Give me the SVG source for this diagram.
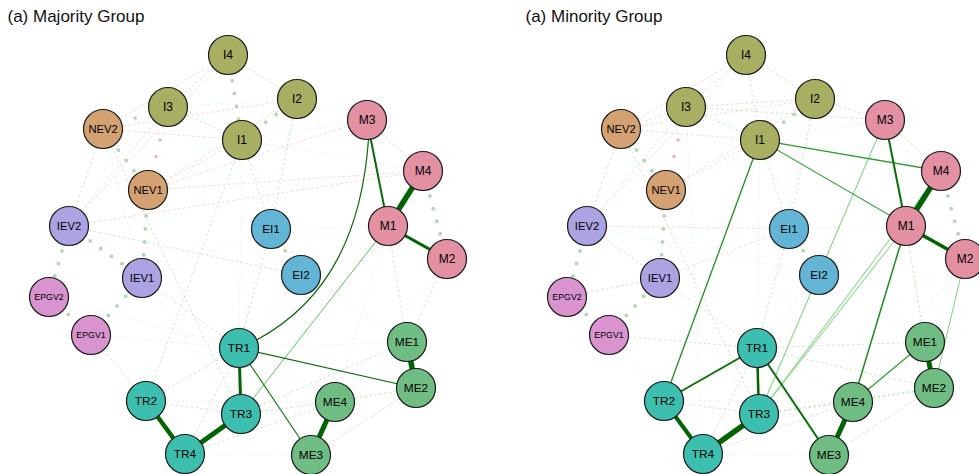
<svg xmlns="http://www.w3.org/2000/svg" width="979" height="474" viewBox="0 0 979 474">
<style>
text{font-family:"Liberation Sans",Arial,sans-serif;fill:#111}
.title{font-size:17px}
.n circle{stroke:#1a1a1a;stroke-width:1.2}
.n text{text-anchor:middle;font-size:11.8px;fill:#000}
.n text.s4{font-size:11.2px}
.n text.s2{font-size:12px}
.n text.s5{font-size:8.8px}
.cI{fill:#A8AE62}.cNEV{fill:#D4A272}.cIEV{fill:#ABA3E2}.cEPGV{fill:#D994CF}
.cEI{fill:#63B5D6}.cM{fill:#E290A2}.cTR{fill:#3DBFB0}.cME{fill:#6FBD83}
line.fg{stroke:#8fcf8f;stroke-width:0.9;stroke-dasharray:2.5 2.5;opacity:0.5}
line.fg2{stroke:#9ed69e;stroke-width:0.8;stroke-dasharray:2 2.5;opacity:0.3}
line.fr{stroke:#f29a9a;stroke-width:0.9;stroke-dasharray:2.5 2.5;opacity:0.45}
line.dg{stroke:#b6d8b6;stroke-width:4;stroke-linecap:round;stroke-dasharray:0 13}
line.dr{stroke:#f7b0b0;stroke-width:3.5;stroke-linecap:round;stroke-dasharray:0 17}
.st line,.st path{fill:none;stroke-linecap:butt}
</style>

<text class="title" x="7.5" y="21.5">(a) Majority Group</text>
<text class="title" x="525.5" y="21.5">(a) Minority Group</text>

<!-- LEFT PANEL CONNECTORS -->
<g id="left-edges">
  <g id="left-faint">
    <line class="fg" x1="228" y1="55" x2="168" y2="107"/>
    <line class="fg" x1="228" y1="55" x2="297" y2="99"/>
    <line class="fg" x1="168" y1="107" x2="242" y2="140"/>
    <line class="fg2" x1="168" y1="107" x2="297" y2="99"/>
    <line class="fg2" x1="297" y1="99" x2="367" y2="120"/>
    <line class="fg2" x1="242" y1="140" x2="367" y2="120"/>
    <line class="fg2" x1="242" y1="140" x2="423" y2="171"/>
    <line class="fg" x1="367" y1="120" x2="423" y2="171"/>
    <line class="fg" x1="103" y1="129" x2="69" y2="226"/>
    <line class="fg" x1="103" y1="129" x2="241" y2="414"/>
    <line class="fg2" x1="103" y1="129" x2="142" y2="278"/>
    <line class="fg" x1="242" y1="140" x2="271" y2="229"/>
    <line class="fg" x1="242" y1="140" x2="146" y2="401"/>
    <line class="fg2" x1="242" y1="140" x2="301" y2="275"/>
    <line class="fg" x1="297" y1="99" x2="271" y2="229"/>
    <line class="fg2" x1="297" y1="99" x2="239" y2="348"/>
    <line class="fg2" x1="242" y1="140" x2="239" y2="348"/>
    <line class="fg" x1="69" y1="226" x2="301" y2="275"/>
    <line class="fg2" x1="142" y1="278" x2="271" y2="229"/>
    <line class="fg2" x1="49" y1="297" x2="239" y2="348"/>
    <line class="fg" x1="91" y1="335" x2="146" y2="401"/>
    <line class="fg2" x1="91" y1="335" x2="239" y2="348"/>
    <line class="fg" x1="271" y1="229" x2="239" y2="348"/>
    <line class="fg2" x1="301" y1="275" x2="239" y2="348"/>
    <line class="fg2" x1="301" y1="275" x2="407" y2="342"/>
    <line class="fg" x1="388" y1="226" x2="407" y2="342"/>
    <line class="fg2" x1="388" y1="226" x2="335" y2="402"/>
    <line class="fg" x1="447" y1="259" x2="407" y2="342"/>
    <line class="fg2" x1="447" y1="259" x2="335" y2="402"/>
    <line class="fg" x1="146" y1="401" x2="239" y2="348"/>
    <line class="fg" x1="146" y1="401" x2="241" y2="414"/>
    <line class="fg2" x1="146" y1="401" x2="335" y2="402"/>
    <line class="fg" x1="241" y1="414" x2="335" y2="402"/>
    <line class="fg2" x1="241" y1="414" x2="416" y2="388"/>
    <line class="fg" x1="241" y1="414" x2="407" y2="342"/>
    <line class="fg2" x1="185" y1="454" x2="311" y2="455"/>
    <line class="fg" x1="185" y1="454" x2="335" y2="402"/>
    <line class="fg" x1="185" y1="454" x2="239" y2="348"/>
    <line class="fg" x1="335" y1="402" x2="416" y2="388"/>
    <line class="fg" x1="311" y1="455" x2="416" y2="388"/>
    <line class="fg2" x1="335" y1="402" x2="407" y2="342"/>
    <line class="fg2" x1="239" y1="348" x2="335" y2="402"/>
    <line class="fg2" x1="239" y1="348" x2="407" y2="342"/>
    <line class="fg2" x1="271" y1="229" x2="388" y2="226"/>
    <line class="fg2" x1="271" y1="229" x2="447" y2="259"/>
    <line class="fg2" x1="142" y1="278" x2="241" y2="414"/>
    <line class="fr" x1="103" y1="129" x2="242" y2="140"/>
    <line class="fr" x1="103" y1="129" x2="297" y2="99"/>
    <line class="fr" x1="103" y1="129" x2="228" y2="55"/>
    <line class="fr" x1="148" y1="190" x2="242" y2="140"/>
    <line class="fr" x1="148" y1="190" x2="297" y2="99"/>
    <line class="fr" x1="148" y1="190" x2="423" y2="171"/>
    <line class="fr" x1="148" y1="190" x2="367" y2="120"/>
    <line class="fr" x1="69" y1="226" x2="168" y2="107"/>
    <line class="fr" x1="69" y1="226" x2="228" y2="55"/>
    <line class="fr" x1="69" y1="226" x2="423" y2="171"/>
    <line class="fr" x1="142" y1="278" x2="239" y2="348"/>
    <line class="dg" x1="228" y1="55" x2="242" y2="140"/>
    <line class="dg" x1="297" y1="99" x2="242" y2="140"/>
    <line class="dg" x1="103" y1="129" x2="148" y2="190"/>
    <line class="dg" x1="148" y1="190" x2="142" y2="278"/>
    <line class="dg" x1="69" y1="226" x2="142" y2="278"/>
    <line class="dg" x1="69" y1="226" x2="49" y2="297"/>
    <line class="dg" x1="49" y1="297" x2="91" y2="335"/>
    <line class="dg" x1="91" y1="335" x2="142" y2="278"/>
    <line class="dg" x1="271" y1="229" x2="301" y2="275"/>
    <line class="dg" x1="423" y1="171" x2="447" y2="259"/>
    <line class="dr" x1="103" y1="129" x2="168" y2="107"/>
    <line class="dr" x1="168" y1="107" x2="148" y2="190"/>
  </g>
  <g id="left-strong" class="st">
    <line x1="388" y1="226" x2="241" y2="414" stroke="#5cc25c" stroke-width="1"/>
    <path d="M367,120 L368.5,139.5 C362,230 330,300 257.5,339.5 L239,348" stroke="#0a6b0a" stroke-width="1.2"/>
    <line x1="239" y1="348" x2="416" y2="388" stroke="#0a6b0a" stroke-width="1.2"/>
    <line x1="239" y1="348" x2="311" y2="455" stroke="#137713" stroke-width="1.2"/>
    <line x1="367" y1="120" x2="388" y2="226" stroke="#0a6b0a" stroke-width="2"/>
    <line x1="423" y1="171" x2="388" y2="226" stroke="#006400" stroke-width="5.5"/>
    <line x1="388" y1="226" x2="447" y2="259" stroke="#006400" stroke-width="3"/>
    <line x1="239" y1="348" x2="241" y2="414" stroke="#006400" stroke-width="3"/>
    <line x1="146" y1="401" x2="185" y2="454" stroke="#006400" stroke-width="4.5"/>
    <line x1="241" y1="414" x2="185" y2="454" stroke="#006400" stroke-width="5"/>
    <line x1="407" y1="342" x2="416" y2="388" stroke="#006400" stroke-width="5.5"/>
    <line x1="335" y1="402" x2="311" y2="455" stroke="#006400" stroke-width="5"/>
  </g>
</g>

<!-- RIGHT PANEL CONNECTORS -->
<g id="right-edges">
  <g id="right-faint">
    <line class="fg" x1="746" y1="55" x2="686" y2="107"/>
    <line class="fg" x1="746" y1="55" x2="815" y2="99"/>
    <line class="fg" x1="746" y1="55" x2="760" y2="140"/>
    <line class="fg" x1="686" y1="107" x2="760" y2="140"/>
    <line class="fg" x1="686" y1="107" x2="815" y2="99"/>
    <line class="fg" x1="686" y1="107" x2="885" y2="120"/>
    <line class="fg" x1="815" y1="99" x2="885" y2="120"/>
    <line class="fg2" x1="815" y1="99" x2="941" y2="171"/>
    <line class="fg2" x1="760" y1="140" x2="885" y2="120"/>
    <line class="fg" x1="885" y1="120" x2="941" y2="171"/>
    <line class="fg2" x1="885" y1="120" x2="925" y2="342"/>
    <line class="fg" x1="621" y1="129" x2="587" y2="226"/>
    <line class="fg" x1="621" y1="129" x2="759" y2="414"/>
    <line class="fg2" x1="686" y1="107" x2="703" y2="454"/>
    <line class="fg" x1="760" y1="140" x2="789" y2="229"/>
    <line class="fg2" x1="760" y1="140" x2="819" y2="275"/>
    <line class="fg" x1="815" y1="99" x2="789" y2="229"/>
    <line class="fg2" x1="815" y1="99" x2="757" y2="348"/>
    <line class="fg2" x1="760" y1="140" x2="757" y2="348"/>
    <line class="fg" x1="587" y1="226" x2="660" y2="278"/>
    <line class="fg2" x1="587" y1="226" x2="819" y2="275"/>
    <line class="fg" x1="567" y1="297" x2="660" y2="278"/>
    <line class="fg" x1="609" y1="335" x2="757" y2="348"/>
    <line class="fg2" x1="609" y1="335" x2="664" y2="401"/>
    <line class="fg" x1="789" y1="229" x2="757" y2="348"/>
    <line class="fg2" x1="819" y1="275" x2="757" y2="348"/>
    <line class="fg2" x1="819" y1="275" x2="925" y2="342"/>
    <line class="fg" x1="906" y1="226" x2="925" y2="342"/>
    <line class="fg2" x1="965" y1="259" x2="853" y2="402"/>
    <line class="fg2" x1="965" y1="259" x2="925" y2="342"/>
    <line class="fg" x1="664" y1="401" x2="759" y2="414"/>
    <line class="fg2" x1="664" y1="401" x2="853" y2="402"/>
    <line class="fg" x1="759" y1="414" x2="853" y2="402"/>
    <line class="fg" x1="759" y1="414" x2="934" y2="388"/>
    <line class="fg" x1="757" y1="348" x2="925" y2="342"/>
    <line class="fg" x1="757" y1="348" x2="934" y2="388"/>
    <line class="fg2" x1="703" y1="454" x2="829" y2="455"/>
    <line class="fg" x1="703" y1="454" x2="853" y2="402"/>
    <line class="fg" x1="703" y1="454" x2="757" y2="348"/>
    <line class="fg" x1="853" y1="402" x2="934" y2="388"/>
    <line class="fg" x1="829" y1="455" x2="934" y2="388"/>
    <line class="fg2" x1="829" y1="455" x2="925" y2="342"/>
    <line class="fg2" x1="757" y1="348" x2="853" y2="402"/>
    <line class="fg2" x1="789" y1="229" x2="906" y2="226"/>
    <line class="fg2" x1="660" y1="278" x2="759" y2="414"/>
    <line class="fr" x1="621" y1="129" x2="760" y2="140"/>
    <line class="fr" x1="621" y1="129" x2="746" y2="55"/>
    <line class="fr" x1="621" y1="129" x2="815" y2="99"/>
    <line class="fr" x1="621" y1="129" x2="686" y2="107"/>
    <line class="fr" x1="666" y1="190" x2="760" y2="140"/>
    <line class="fr" x1="666" y1="190" x2="815" y2="99"/>
    <line class="fr" x1="587" y1="226" x2="686" y2="107"/>
    <line class="fr" x1="587" y1="226" x2="746" y2="55"/>
    <line class="fr" x1="587" y1="226" x2="789" y2="229"/>
    <line class="fr" x1="660" y1="278" x2="789" y2="229"/>
    <line class="fr" x1="660" y1="278" x2="757" y2="348"/>
    <line class="dg" x1="815" y1="99" x2="760" y2="140"/>
    <line class="dg" x1="621" y1="129" x2="666" y2="190"/>
    <line class="dg" x1="666" y1="190" x2="660" y2="278"/>
    <line class="dg" x1="587" y1="226" x2="567" y2="297"/>
    <line class="dg" x1="567" y1="297" x2="609" y2="335"/>
    <line class="dg" x1="609" y1="335" x2="660" y2="278"/>
    <line class="dg" x1="789" y1="229" x2="819" y2="275"/>
    <line class="dg" x1="941" y1="171" x2="965" y2="259"/>
    <line class="dr" x1="686" y1="107" x2="666" y2="190"/>
  </g>
  <g id="right-strong" class="st">
    <line x1="885" y1="120" x2="759" y2="414" stroke="#6fcc6f" stroke-width="1"/>
    <line x1="906" y1="226" x2="759" y2="414" stroke="#95d995" stroke-width="1.1"/>
    <line x1="941" y1="171" x2="759" y2="414" stroke="#95d995" stroke-width="1.1"/>
    <line x1="965" y1="259" x2="934" y2="388" stroke="#7ed07e" stroke-width="1"/>
    <line x1="760" y1="140" x2="941" y2="171" stroke="#2e9e2e" stroke-width="1.3"/>
    <line x1="760" y1="140" x2="965" y2="259" stroke="#3aa83a" stroke-width="1.2"/>
    <line x1="760" y1="140" x2="664" y2="401" stroke="#1f8f1f" stroke-width="1.3"/>
    <line x1="906" y1="226" x2="853" y2="402" stroke="#1e8c1e" stroke-width="1.5"/>
    <line x1="853" y1="402" x2="925" y2="342" stroke="#2ea02e" stroke-width="1.2"/>
    <line x1="885" y1="120" x2="906" y2="226" stroke="#0a700a" stroke-width="2"/>
    <line x1="941" y1="171" x2="906" y2="226" stroke="#006400" stroke-width="5.5"/>
    <line x1="906" y1="226" x2="965" y2="259" stroke="#006400" stroke-width="3.5"/>
    <line x1="757" y1="348" x2="664" y2="401" stroke="#0a6e0a" stroke-width="2"/>
    <line x1="757" y1="348" x2="759" y2="414" stroke="#006400" stroke-width="2.5"/>
    <line x1="757" y1="348" x2="829" y2="455" stroke="#0a6b0a" stroke-width="2"/>
    <line x1="664" y1="401" x2="703" y2="454" stroke="#006400" stroke-width="4"/>
    <line x1="759" y1="414" x2="703" y2="454" stroke="#006400" stroke-width="5.5"/>
    <line x1="925" y1="342" x2="934" y2="388" stroke="#006400" stroke-width="5"/>
    <line x1="853" y1="402" x2="829" y2="455" stroke="#006400" stroke-width="5"/>
  </g>
</g>

<!-- LEFT PANEL NODES -->
<g id="left-nodes">
  <g id="L-I4" class="n"><circle class="cI" cx="228" cy="55" r="19.5"/><text class="s2" x="228" y="55" dy="0.36em">I4</text></g>
  <g id="L-I3" class="n"><circle class="cI" cx="168" cy="107" r="19.5"/><text class="s2" x="168" y="107" dy="0.36em">I3</text></g>
  <g id="L-I2" class="n"><circle class="cI" cx="297" cy="99" r="19.5"/><text class="s2" x="297" y="99" dy="0.36em">I2</text></g>
  <g id="L-NEV2" class="n"><circle class="cNEV" cx="103" cy="129" r="19.5"/><text class="s4" x="103" y="129" dy="0.36em">NEV2</text></g>
  <g id="L-I1" class="n"><circle class="cI" cx="242" cy="140" r="19.5"/><text class="s2" x="242" y="140" dy="0.36em">I1</text></g>
  <g id="L-M3" class="n"><circle class="cM" cx="367" cy="120" r="19.5"/><text class="s2" x="367" y="120" dy="0.36em">M3</text></g>
  <g id="L-M4" class="n"><circle class="cM" cx="423" cy="171" r="19.5"/><text class="s2" x="423" y="171" dy="0.36em">M4</text></g>
  <g id="L-NEV1" class="n"><circle class="cNEV" cx="148" cy="190" r="19.5"/><text class="s4" x="148" y="190" dy="0.36em">NEV1</text></g>
  <g id="L-IEV2" class="n"><circle class="cIEV" cx="69" cy="226" r="19.5"/><text class="s4" x="69" y="226" dy="0.36em">IEV2</text></g>
  <g id="L-EI1" class="n"><circle class="cEI" cx="271" cy="229" r="19.5"/><text x="271" y="229" dy="0.36em">EI1</text></g>
  <g id="L-M1" class="n"><circle class="cM" cx="388" cy="226" r="19.5"/><text class="s2" x="388" y="226" dy="0.36em">M1</text></g>
  <g id="L-M2" class="n"><circle class="cM" cx="447" cy="259" r="19.5"/><text class="s2" x="447" y="259" dy="0.36em">M2</text></g>
  <g id="L-IEV1" class="n"><circle class="cIEV" cx="142" cy="278" r="19.5"/><text class="s4" x="142" y="278" dy="0.36em">IEV1</text></g>
  <g id="L-EI2" class="n"><circle class="cEI" cx="301" cy="275" r="19.5"/><text x="301" y="275" dy="0.36em">EI2</text></g>
  <g id="L-EPGV2" class="n"><circle class="cEPGV" cx="49" cy="297" r="19.5"/><text class="s5" x="49" y="297" dy="0.36em">EPGV2</text></g>
  <g id="L-EPGV1" class="n"><circle class="cEPGV" cx="91" cy="335" r="19.5"/><text class="s5" x="91" y="335" dy="0.36em">EPGV1</text></g>
  <g id="L-TR1" class="n"><circle class="cTR" cx="239" cy="348" r="19.5"/><text x="239" y="348" dy="0.36em">TR1</text></g>
  <g id="L-ME1" class="n"><circle class="cME" cx="407" cy="342" r="19.5"/><text x="407" y="342" dy="0.36em">ME1</text></g>
  <g id="L-ME2" class="n"><circle class="cME" cx="416" cy="388" r="19.5"/><text x="416" y="388" dy="0.36em">ME2</text></g>
  <g id="L-TR2" class="n"><circle class="cTR" cx="146" cy="401" r="19.5"/><text x="146" y="401" dy="0.36em">TR2</text></g>
  <g id="L-ME4" class="n"><circle class="cME" cx="335" cy="402" r="19.5"/><text x="335" y="402" dy="0.36em">ME4</text></g>
  <g id="L-TR3" class="n"><circle class="cTR" cx="241" cy="414" r="19.5"/><text x="241" y="414" dy="0.36em">TR3</text></g>
  <g id="L-TR4" class="n"><circle class="cTR" cx="185" cy="454" r="19.5"/><text x="185" y="454" dy="0.36em">TR4</text></g>
  <g id="L-ME3" class="n"><circle class="cME" cx="311" cy="455" r="19.5"/><text x="311" y="455" dy="0.36em">ME3</text></g>
</g>

<!-- RIGHT PANEL NODES -->
<g id="right-nodes">
  <g id="R-I4" class="n"><circle class="cI" cx="746" cy="55" r="19.5"/><text class="s2" x="746" y="55" dy="0.36em">I4</text></g>
  <g id="R-I3" class="n"><circle class="cI" cx="686" cy="107" r="19.5"/><text class="s2" x="686" y="107" dy="0.36em">I3</text></g>
  <g id="R-I2" class="n"><circle class="cI" cx="815" cy="99" r="19.5"/><text class="s2" x="815" y="99" dy="0.36em">I2</text></g>
  <g id="R-NEV2" class="n"><circle class="cNEV" cx="621" cy="129" r="19.5"/><text class="s4" x="621" y="129" dy="0.36em">NEV2</text></g>
  <g id="R-I1" class="n"><circle class="cI" cx="760" cy="140" r="19.5"/><text class="s2" x="760" y="140" dy="0.36em">I1</text></g>
  <g id="R-M3" class="n"><circle class="cM" cx="885" cy="120" r="19.5"/><text class="s2" x="885" y="120" dy="0.36em">M3</text></g>
  <g id="R-M4" class="n"><circle class="cM" cx="941" cy="171" r="19.5"/><text class="s2" x="941" y="171" dy="0.36em">M4</text></g>
  <g id="R-NEV1" class="n"><circle class="cNEV" cx="666" cy="190" r="19.5"/><text class="s4" x="666" y="190" dy="0.36em">NEV1</text></g>
  <g id="R-IEV2" class="n"><circle class="cIEV" cx="587" cy="226" r="19.5"/><text class="s4" x="587" y="226" dy="0.36em">IEV2</text></g>
  <g id="R-EI1" class="n"><circle class="cEI" cx="789" cy="229" r="19.5"/><text x="789" y="229" dy="0.36em">EI1</text></g>
  <g id="R-M1" class="n"><circle class="cM" cx="906" cy="226" r="19.5"/><text class="s2" x="906" y="226" dy="0.36em">M1</text></g>
  <g id="R-M2" class="n"><circle class="cM" cx="965" cy="259" r="19.5"/><text class="s2" x="965" y="259" dy="0.36em">M2</text></g>
  <g id="R-IEV1" class="n"><circle class="cIEV" cx="660" cy="278" r="19.5"/><text class="s4" x="660" y="278" dy="0.36em">IEV1</text></g>
  <g id="R-EI2" class="n"><circle class="cEI" cx="819" cy="275" r="19.5"/><text x="819" y="275" dy="0.36em">EI2</text></g>
  <g id="R-EPGV2" class="n"><circle class="cEPGV" cx="567" cy="297" r="19.5"/><text class="s5" x="567" y="297" dy="0.36em">EPGV2</text></g>
  <g id="R-EPGV1" class="n"><circle class="cEPGV" cx="609" cy="335" r="19.5"/><text class="s5" x="609" y="335" dy="0.36em">EPGV1</text></g>
  <g id="R-TR1" class="n"><circle class="cTR" cx="757" cy="348" r="19.5"/><text x="757" y="348" dy="0.36em">TR1</text></g>
  <g id="R-ME1" class="n"><circle class="cME" cx="925" cy="342" r="19.5"/><text x="925" y="342" dy="0.36em">ME1</text></g>
  <g id="R-ME2" class="n"><circle class="cME" cx="934" cy="388" r="19.5"/><text x="934" y="388" dy="0.36em">ME2</text></g>
  <g id="R-TR2" class="n"><circle class="cTR" cx="664" cy="401" r="19.5"/><text x="664" y="401" dy="0.36em">TR2</text></g>
  <g id="R-ME4" class="n"><circle class="cME" cx="853" cy="402" r="19.5"/><text x="853" y="402" dy="0.36em">ME4</text></g>
  <g id="R-TR3" class="n"><circle class="cTR" cx="759" cy="414" r="19.5"/><text x="759" y="414" dy="0.36em">TR3</text></g>
  <g id="R-TR4" class="n"><circle class="cTR" cx="703" cy="454" r="19.5"/><text x="703" y="454" dy="0.36em">TR4</text></g>
  <g id="R-ME3" class="n"><circle class="cME" cx="829" cy="455" r="19.5"/><text x="829" y="455" dy="0.36em">ME3</text></g>
</g>
</svg>
